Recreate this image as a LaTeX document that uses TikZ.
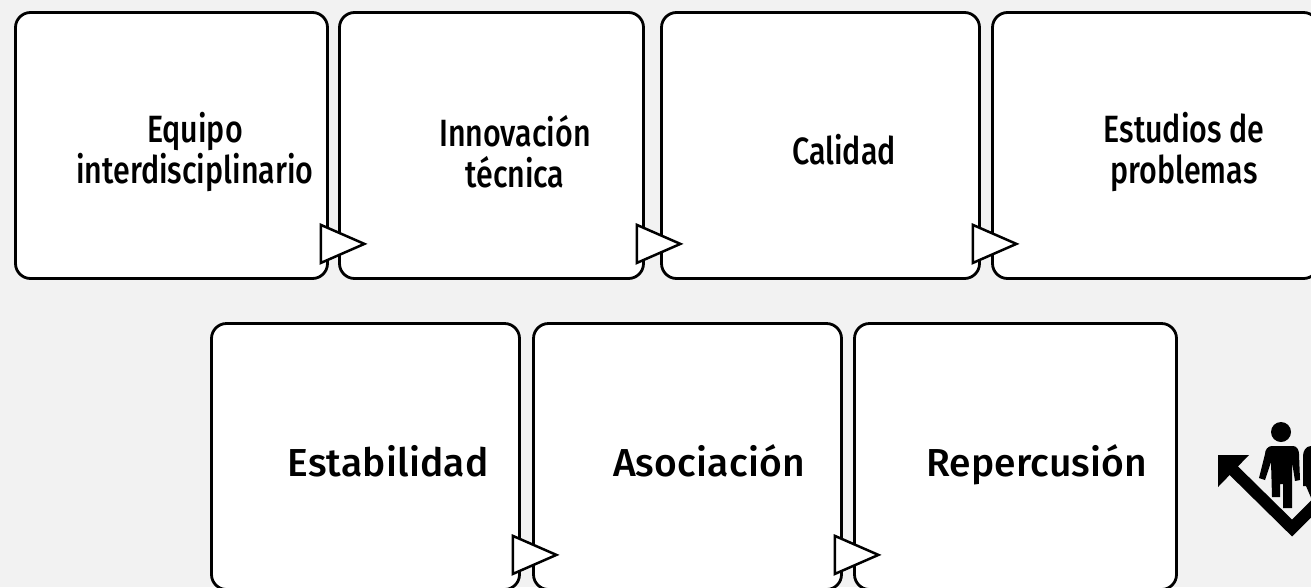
\documentclass[tikz,border=0pt]{standalone}
\usepackage{fontspec}
\usetikzlibrary{calc}
\newfontfamily\topfont[FakeStretch=0.8]{Fira Sans Medium}
\newfontfamily\botfont[LetterSpace=0.5]{Fira Sans Medium}
\definecolor{bgc}{HTML}{F2F2F2}
\tikzset{
  box/.style={draw=black, fill=white, line width=2.8pt, rounded corners=15pt, inner sep=0pt},
  tri/.style={draw=black, fill=white, line width=2.5pt, line join=miter},
  toptxt/.style={font=\topfont\fontsize{38}{41}\selectfont, align=center, inner sep=0pt},
  bottxt/.style={font=\botfont\fontsize{39}{46}\selectfont, inner sep=0pt, anchor=base},
}
\begin{document}
\begin{tikzpicture}[x=1pt,y=-1pt]
\fill[bgc] (0,0) rectangle (1311,587);
\useasboundingbox (0,0) rectangle (1311,587);
\begin{scope}
\clip (0,0) rectangle (1311,587);
% top row
\node[box, minimum width=312pt, minimum height=266pt] (b1) at (171.5,145.5) {};
\node[box, minimum width=304pt, minimum height=266pt] (b2) at (491.5,145.5) {};
\node[box, minimum width=318pt, minimum height=266pt] (b3) at (820.5,145.5) {};
\node[box, minimum width=326pt, minimum height=266pt] (b4) at (1155.5,145.5) {};
% bottom row
\node[box, minimum width=308pt, minimum height=266pt] (b5) at (365.5,456.5) {};
\node[box, minimum width=308pt, minimum height=266pt] (b6) at (687.5,456.5) {};
\node[box, minimum width=322pt, minimum height=266pt] (b7) at (1015.5,456.5) {};
% triangles
\foreach \b in {b1,b2,b3,b5,b6}{
  \draw[tri] ($(\b.south east)+(-8,-55)$) -- ($(\b.south east)+(35.5,-36)$) -- ($(\b.south east)+(-8,-17)$) -- cycle;
}
% texts
\node[toptxt] (t1) at (195,152) {Equipo\\interdisciplinario};
\node[toptxt] (t2) at (515,152) {Innovación\\técnica};
\node[toptxt, anchor=base] (t3) at (844,164) {Calidad};
\node[toptxt] (t4) at (1184,152) {Estudios de\\problemas};
\node[bottxt] (t5) at (388,476) {Estabilidad};
\node[bottxt] (t6) at (709,476) {Asociación};
\node[bottxt] (t7) at (1037,476) {Repercusión};
% icon
\draw[line width=12pt, line join=miter] (1228,465) -- (1292,528) -- (1325,495);
\fill (1218,455) -- (1249,455) -- (1218,487) -- cycle;
\fill (1281,432) circle (10);
\fill (1272,446) -- (1293,446) to[out=0,in=90] (1299,454) -- (1300,480) -- (1295,481) -- (1292,462)
  -- (1292,508) -- (1283,508) -- (1283,484) -- (1280,484) -- (1280,497) -- (1272,497)
  -- (1271,462) -- (1265,480) -- (1259,478) -- (1265,454) to[out=90,in=180] cycle;
\fill (1303,456) to[out=90,in=180] (1311,446) -- (1312,446) -- (1312,500) -- (1306,486) -- (1303,486) -- cycle;
\end{scope}
\end{tikzpicture}
\end{document}
